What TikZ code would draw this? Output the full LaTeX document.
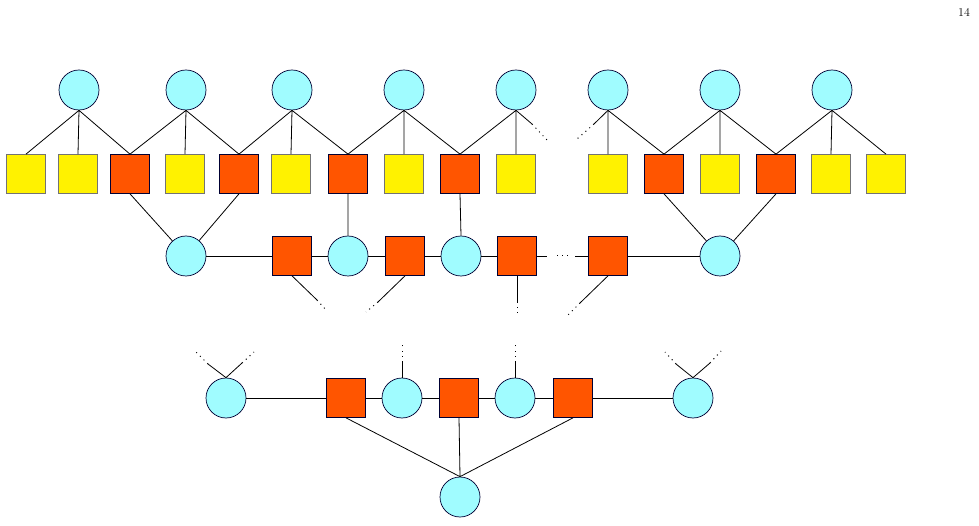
\documentclass[tikz,border=0pt]{standalone}
\begin{document}
\begin{tikzpicture}[x=1pt,y=-1pt,
  cyc/.style={circle,draw=black!80!blue,line width=0.7pt,fill=cyan!38,minimum size=40pt,inner sep=0pt},
  ysq/.style={rectangle,draw=black!55,line width=0.7pt,fill=yellow,minimum size=39pt,inner sep=0pt},
  osq/.style={rectangle,draw=black!80!blue,line width=0.7pt,fill=orange!70!red!95,minimum size=39pt,inner sep=0pt},
  ln/.style={draw=black,line width=0.8pt},
  dt/.style={draw=black,line width=1pt,dash pattern=on 1pt off 4.2pt}]
\useasboundingbox (0,0) rectangle (979,526);
\definecolor{myorange}{RGB}{255,85,0}
\tikzset{osq/.append style={fill=myorange}, cyc/.append style={fill={rgb,255:red,160;green,252;blue,255}}}
\node[font=\fontsize{12}{14}\selectfont] (pg) at (964,12) {14};
% top circles
\foreach \i/\x in {1/79,2/186,3/292,4/404,5/516,6/608,7/720,8/832}
  \node[cyc] (t\i) at (\x,90) {};
% row 1 squares
\foreach \i/\x/\s in {1/26/ysq,2/78/ysq,3/130/osq,4/185/ysq,5/239/osq,6/291/ysq,7/348/osq,8/404/ysq,9/460/osq,10/516/ysq,11/608/ysq,12/664/osq,13/720/ysq,14/776/osq,15/831/ysq,16/886/ysq}
  \node[\s] (s\i) at (\x,174) {};
% top edges
\foreach \t/\a/\b/\c in {1/1/2/3,2/3/4/5,3/5/6/7,4/7/8/9,7/12/13/14,8/14/15/16}
  \path[ln] (t\t.south) -- (s\a.north) (t\t.south) -- (s\b.north) (t\t.south) -- (s\c.north);
\path[ln] (t5.south) -- (s9.north) (t5.south) -- (s10.north) (t6.south) -- (s11.north) (t6.south) -- (s12.north);
\coordinate (e1) at (532,124); \coordinate (e1d) at (547,140);
\coordinate (e2) at (594,124); \coordinate (e2d) at (577,139);
\path[ln] (t5.south) -- (e1); \path[dt] (e1) -- (e1d);
\path[ln] (t6.south) -- (e2); \path[dt] (e2) -- (e2d);
% row 2
\node[cyc] (c1) at (186,256) {};
\node[osq] (q1) at (292,256) {};
\node[cyc] (c2) at (348,256) {};
\node[osq] (q2) at (405,256) {};
\node[cyc] (c3) at (461,256) {};
\node[osq] (q3) at (517,256) {};
\node[osq] (q4) at (608,256) {};
\node[cyc] (c4) at (720,256) {};
\path[ln] (c1) -- (q1) -- (c2) -- (q2) -- (c3) -- (q3);
\path[ln] (q4) -- (c4);
\coordinate (h1) at (547,256); \coordinate (h2) at (575,256);
\path[ln] (q3.east) -- (h1); \path[dt] (557,256) -- (570,256);
\path[ln] (h2) -- (q4.west);
\path[ln] (s3.south) -- (c1) (s5.south) -- (c1) (s12.south) -- (c4) (s14.south) -- (c4);
\path[ln] (s7.south) -- (c2.north) (s9.south) -- (c3.north);
% below row 2
\coordinate (m1) at (317,300); \coordinate (m1d) at (327,311);
\coordinate (m2) at (378,302); \coordinate (m2d) at (366,312);
\coordinate (m3) at (517,302); \coordinate (m3d) at (517,317);
\coordinate (m4) at (580,303); \coordinate (m4d) at (568,315);
\path[ln] (q1.south) -- (m1); \path[dt] (m1) -- (m1d);
\path[ln] (q2.south) -- (m2); \path[dt] (m2) -- (m2d);
\path[ln] (q3.south) -- (m3); \path[dt] (m3) -- (m3d);
\path[ln] (q4.south) -- (m4); \path[dt] (m4) -- (m4d);
% row 3
\node[cyc] (d1) at (226,398) {};
\node[osq] (p1) at (346,398) {};
\node[cyc] (d2) at (402,398) {};
\node[osq] (p2) at (459,398) {};
\node[cyc] (d3) at (515,398) {};
\node[osq] (p3) at (573,398) {};
\node[cyc] (d4) at (693,398) {};
\node[cyc] (b) at (460,497) {};
\path[ln] (d1) -- (p1) -- (d2) -- (p2) -- (d3) -- (p3) -- (d4);
\path[ln] (p1.south) -- (b.north) (p2.south) -- (b.north) (p3.south) -- (b.north);
\coordinate (u1) at (402,362); \coordinate (u1d) at (402,345);
\coordinate (u2) at (515,362); \coordinate (u2d) at (515,345);
\path[ln] (d2.north) -- (u1); \path[dt] (u1) -- (u1d);
\path[ln] (d3.north) -- (u2); \path[dt] (u2) -- (u2d);
\coordinate (v1) at (208,364); \coordinate (v1d) at (196,352);
\coordinate (v2) at (242,363); \coordinate (v2d) at (254,352);
\coordinate (v3) at (676,364); \coordinate (v3d) at (665,352);
\coordinate (v4) at (710,363); \coordinate (v4d) at (721,351);
\path[ln] (d1.north) -- (v1) (d1.north) -- (v2) (d4.north) -- (v3) (d4.north) -- (v4);
\path[dt] (v1) -- (v1d) (v2) -- (v2d) (v3) -- (v3d) (v4) -- (v4d);
\end{tikzpicture}
\end{document}
